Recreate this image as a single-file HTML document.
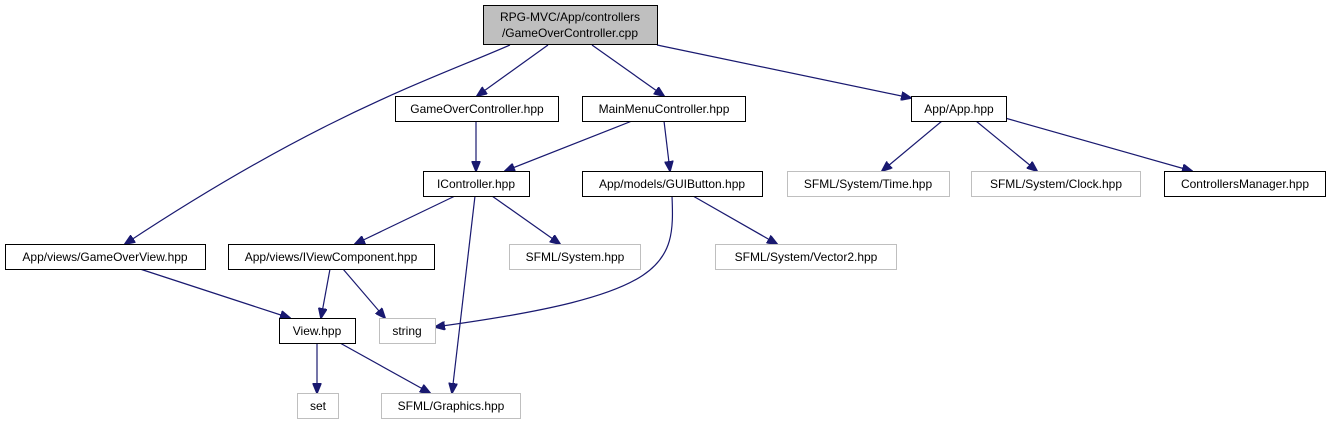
<!DOCTYPE html>
<html><head><meta charset="utf-8"><style>
html,body{margin:0;padding:0;background:#fff;}
svg{display:block;}
text{font-family:"Liberation Sans",sans-serif;font-size:12px;fill:#000;}
</style></head><body>
<svg width="1331" height="425" viewBox="0 0 1331 425" xmlns="http://www.w3.org/2000/svg">
<defs>
<marker id="a" markerWidth="11" markerHeight="9" refX="10" refY="4.5" orient="auto" markerUnits="userSpaceOnUse">
<path d="M0,0 L11,4.5 L0,9 Z" fill="#191970" stroke="#191970"/>
</marker>
</defs>
<g fill="none" stroke="#191970" stroke-width="1.2" marker-end="url(#a)">
<path d="M510,45 C430,80 320,115 125,244"/>
<path d="M548,45 L477,96"/>
<path d="M592,45 L664,96"/>
<path d="M657,45 L911,98"/>
<path d="M476,121 L476,171"/>
<path d="M632,121 L505,171"/>
<path d="M664,121 L670,171"/>
<path d="M942,121 L882,171"/>
<path d="M976,121 L1037,171"/>
<path d="M1005,118 L1192,171"/>
<path d="M455,196 L355,244"/>
<path d="M475,196 L452,393"/>
<path d="M492,196 L560,244"/>
<path d="M693,196 L777,244"/>
<path d="M672,196 C675,265 670,295 435,327"/>
<path d="M140,269 L290,318"/>
<path d="M330,269 L321,318"/>
<path d="M343,269 L385,318"/>
<path d="M317,343 L317,393"/>
<path d="M340,343 L430,393"/>
</g>
<g stroke-width="1">
<rect x="483.5" y="5.5" width="174" height="39" fill="#bfbfbf" stroke="#000"/>
<rect x="395.5" y="96.5" width="163" height="25" fill="#fff" stroke="#000"/>
<rect x="582.5" y="96.5" width="163" height="25" fill="#fff" stroke="#000"/>
<rect x="911.5" y="96.5" width="95" height="25" fill="#fff" stroke="#000"/>
<rect x="423.5" y="171.5" width="106" height="25" fill="#fff" stroke="#000"/>
<rect x="582.5" y="171.5" width="180" height="25" fill="#fff" stroke="#000"/>
<rect x="787.5" y="171.5" width="162" height="25" fill="#fff" stroke="#bfbfbf"/>
<rect x="971.5" y="171.5" width="169" height="25" fill="#fff" stroke="#bfbfbf"/>
<rect x="1164.5" y="171.5" width="161" height="25" fill="#fff" stroke="#000"/>
<rect x="5.5" y="244.5" width="200" height="25" fill="#fff" stroke="#000"/>
<rect x="228.5" y="244.5" width="206" height="25" fill="#fff" stroke="#000"/>
<rect x="509.5" y="244.5" width="131" height="25" fill="#fff" stroke="#bfbfbf"/>
<rect x="715.5" y="244.5" width="181" height="25" fill="#fff" stroke="#bfbfbf"/>
<rect x="279.5" y="318.5" width="76" height="25" fill="#fff" stroke="#000"/>
<rect x="379.5" y="318.5" width="56" height="25" fill="#fff" stroke="#bfbfbf"/>
<rect x="297.5" y="393.5" width="41" height="25" fill="#fff" stroke="#bfbfbf"/>
<rect x="381.5" y="393.5" width="139" height="25" fill="#fff" stroke="#bfbfbf"/>
</g>
<g text-anchor="middle">
<text x="570" y="21">RPG-MVC/App/controllers</text>
<text x="570" y="37">/GameOverController.cpp</text>
<text x="477" y="113">GameOverController.hpp</text>
<text x="664" y="113">MainMenuController.hpp</text>
<text x="959" y="113">App/App.hpp</text>
<text x="476" y="188">IController.hpp</text>
<text x="672" y="188">App/models/GUIButton.hpp</text>
<text x="868" y="188">SFML/System/Time.hpp</text>
<text x="1056" y="188">SFML/System/Clock.hpp</text>
<text x="1245" y="188">ControllersManager.hpp</text>
<text x="105" y="261">App/views/GameOverView.hpp</text>
<text x="331" y="261">App/views/IViewComponent.hpp</text>
<text x="575" y="261">SFML/System.hpp</text>
<text x="806" y="261">SFML/System/Vector2.hpp</text>
<text x="317" y="335">View.hpp</text>
<text x="407" y="335">string</text>
<text x="318" y="410">set</text>
<text x="451" y="410">SFML/Graphics.hpp</text>
</g>
</svg>
</body></html>
